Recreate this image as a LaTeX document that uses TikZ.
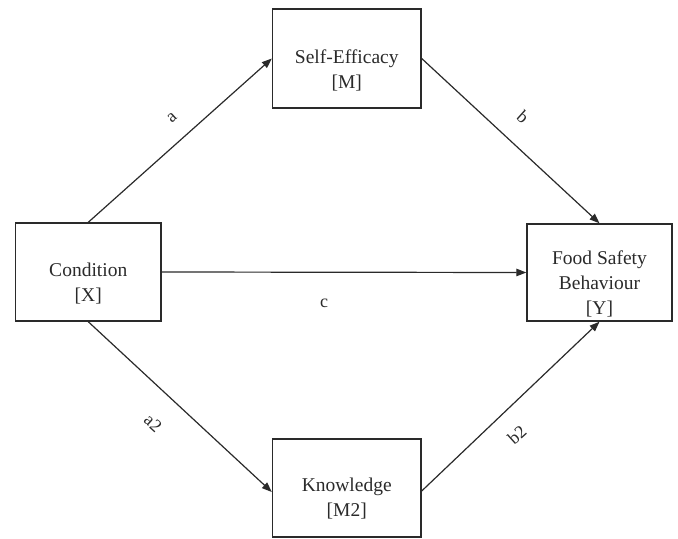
\documentclass[tikz,border=0pt]{standalone}
\usepackage{fontspec}
\setmainfont{Liberation Serif}
\usetikzlibrary{arrows.meta}
\definecolor{ink}{HTML}{2A2A2A}
\begin{document}
\begin{tikzpicture}[x=1bp,y=-1bp,
  boxnode/.style={draw=ink,line width=1.4bp,rectangle,inner sep=0pt},
  boxtext/.style={text=ink,align=center,font=\fontsize{19.5bp}{25bp}\selectfont},
  lbl/.style={text=ink,font=\fontsize{18bp}{22bp}\selectfont,inner sep=0pt},
  conn/.style={draw=ink,line width=1.2bp,-{Triangle[length=10bp,width=7.5bp]}}]
\useasboundingbox (0,0) rectangle (678,539);
% boxes
\node[boxnode,minimum width=148.5bp,minimum height=99bp] (se) at (346.75,58.5) {};
\node[boxnode,minimum width=145.5bp,minimum height=98bp] (cond) at (88.25,272) {};
\node[boxnode,minimum width=145bp,minimum height=97bp] (food) at (599.5,272.5) {};
\node[boxnode,minimum width=148.5bp,minimum height=98bp] (know) at (346.75,488) {};
% texts
\node[boxtext] (seT) at (346.75,70) {Self-Efficacy\\{}[M]};
\node[boxtext] (condT) at (88.25,284) {Condition\\{}[X]};
\node[boxtext] (foodT) at (599.5,283.5) {Food Safety\\Behaviour\\{}[Y]};
\node[boxtext] (knowT) at (346.75,499) {Knowledge\\{}[M2]};
% connectors
\draw[conn] (cond.north) -- (se.west);
\draw[conn] (se.east) -- (food.north);
\draw[conn] (cond.east) -- (food.west);
\draw[conn] (cond.south) -- ([yshift=-4bp]know.west);
\draw[conn] ([yshift=-3bp]know.east) -- (food.south);
% labels
\node[lbl,rotate=42] (la) at (172,118) {a};
\node[lbl,rotate=-42] (lb) at (523,117) {b};
\node[lbl] (lc) at (324,303) {c};
\node[lbl,rotate=-42] (la2) at (153,423) {a2};
\node[lbl,rotate=42] (lb2) at (517,435) {b2};
\end{tikzpicture}
\end{document}
